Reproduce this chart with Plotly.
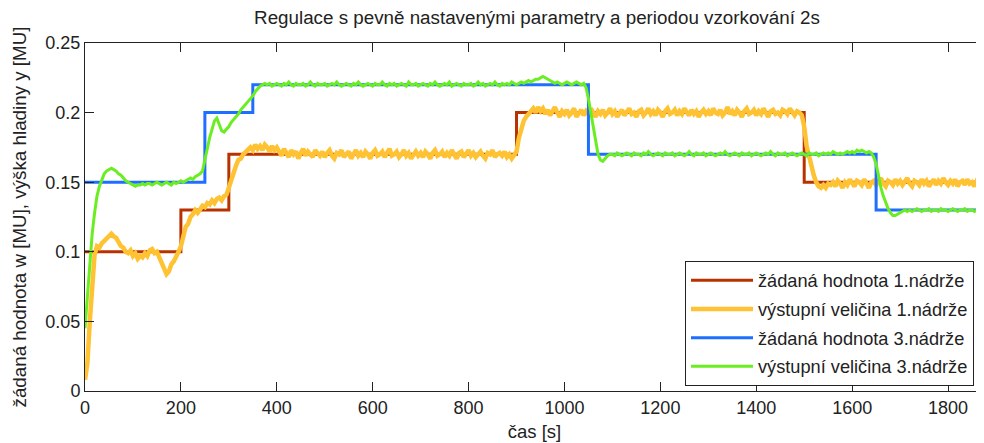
import plotly.graph_objects as go

# ---- data ----
# sample spacing of the digitised outputs: 5 s, starting at t = 0
y1_out = [
    0.008,0.020,0.050,0.075,0.098,0.104,0.103,0.106,0.108,0.109,
    0.112,0.113,0.111,0.110,0.107,0.104,0.103,0.100,0.099,0.101,
    0.097,0.099,0.095,0.097,0.096,0.099,0.097,0.101,0.102,0.099,
    0.100,0.096,0.093,0.088,0.084,0.086,0.091,0.093,0.096,0.100,
    0.104,0.113,0.118,0.120,0.125,0.127,0.130,0.128,0.131,0.133,
    0.132,0.135,0.134,0.137,0.135,0.138,0.139,0.137,0.140,0.141,
    0.146,0.152,0.158,0.162,0.166,0.167,0.170,0.172,0.174,0.175,
    0.173,0.177,0.174,0.176,0.173,0.177,0.175,0.172,0.176,0.173,
    0.175,
    0.172,0.169,0.174,0.171,0.168,0.173,0.170,0.172,0.167,0.171,0.174,0.169,0.172,0.170,0.168,0.173,0.171,0.169,0.172,
    0.168,0.171,0.173,0.169,0.167,0.171,0.170,0.173,0.168,0.170,0.172,0.167,0.170,0.173,0.169,0.171,0.168,0.172,0.170,0.167,
    0.171,0.173,0.169,0.170,0.172,0.168,0.171,0.174,0.169,0.170,0.172,0.168,0.170,0.173,0.169,0.171,0.167,0.170,0.172,0.169,
    0.171,0.168,0.172,0.170,0.167,0.171,0.173,0.169,0.170,0.172,0.168,0.171,0.169,0.173,0.170,0.167,0.171,0.172,0.168,0.170,
    0.173,0.169,0.171,0.168,0.170,0.172,0.169,0.167,0.171,0.170,0.173,0.168,0.170,0.171,0.169,0.172,0.168,0.170,0.167,0.169,
    0.172,0.182,0.188,0.194,0.197,0.199,0.201,0.203,0.200,0.204,0.201,
    0.203,0.199,0.202,0.198,0.201,0.204,0.200,0.197,0.201,
    0.199,0.202,0.198,0.200,0.203,0.197,0.200,0.202,0.198,0.201,0.199,0.203,0.200,0.197,0.201,0.199,0.202,0.198,0.200,0.203,
    0.199,0.201,0.197,0.200,0.202,0.198,0.201,0.203,0.199,0.200,0.197,0.201,0.202,0.198,0.200,0.203,0.199,0.201,0.198,0.202,
    0.200,0.197,0.201,0.203,0.199,0.200,0.202,0.198,0.201,0.199,0.203,0.200,0.198,0.202,0.199,0.201,0.197,0.200,0.202,0.199,
    0.201,0.198,0.203,0.200,0.199,0.202,0.198,0.200,0.204,0.199,0.201,0.198,0.202,0.200,0.197,0.201,0.203,0.199,0.200,0.202,
    0.198,0.201,0.199,0.203,0.200,0.197,0.201,0.202,0.199,0.200,0.198,0.202,0.201,0.199,0.203,0.200,0.198,0.201,0.200,
    0.198,0.190,0.176,0.168,0.161,0.155,0.150,0.147,0.146,0.148,0.146,0.149,0.148,0.150,
    0.147,0.151,0.149,0.146,0.150,0.148,0.152,
    0.149,0.147,0.151,0.150,0.148,0.152,0.149,0.146,0.150,0.151,0.148,0.150,0.153,0.149,0.147,0.151,0.150,0.148,0.152,0.149,
    0.151,0.148,0.150,0.153,0.149,0.147,0.151,0.150,0.148,0.152,0.149,0.151,0.147,0.150,0.152,0.148,0.151,0.149,0.153,0.150,
    0.148,0.151,0.149,0.152,0.147,0.150,0.151,0.148,0.152,0.149,0.150,0.147,0.151,0.149,0.152,0.150,
]

y3_out = [
    0.045,0.070,0.095,0.113,0.128,0.140,0.147,0.152,0.156,0.158,
    0.159,0.160,0.159,0.158,0.156,0.155,0.153,0.151,0.150,0.149,
    0.148,0.147,0.148,0.148,0.149,0.148,0.149,0.149,0.148,0.149,
    0.150,0.149,0.148,0.149,0.150,0.149,0.148,0.150,0.149,0.150,
    0.151,0.150,0.151,0.152,0.153,0.152,0.154,0.155,0.156,0.158,
    0.165,0.174,0.182,0.189,0.194,0.196,0.192,0.187,0.186,0.188,
    0.190,0.193,0.195,0.197,0.199,0.202,0.204,0.206,0.208,0.210,
    0.212,0.215,0.217,0.219,0.220,0.221,0.220,
    0.221,0.219,0.220,0.221,0.220,0.219,0.221,0.220,0.222,0.220,0.219,0.221,0.220,0.220,0.221,0.219,0.220,0.222,0.220,0.219,0.221,0.220,0.220,
    0.221,0.219,0.220,0.221,0.220,0.222,0.220,0.219,0.220,0.221,0.220,0.219,0.221,0.220,0.222,0.220,0.219,0.220,0.221,0.220,
    0.219,0.221,0.220,0.220,0.222,0.220,0.219,0.221,0.220,0.221,0.219,0.220,0.221,0.220,0.219,0.222,0.220,0.220,0.221,0.219,
    0.220,0.221,0.220,0.219,0.221,0.220,0.222,0.220,0.219,0.220,0.221,0.220,0.222,0.219,0.220,0.221,0.220,0.219,0.221,0.220,
    0.220,0.221,0.219,0.220,0.222,0.220,0.221,0.219,0.220,0.221,0.220,0.222,0.220,0.219,0.221,0.220,0.221,0.220,0.222,0.221,
    0.220,0.221,0.222,0.221,0.222,0.223,0.222,
    0.223,0.224,0.224,0.225,0.226,0.225,0.224,0.223,0.222,0.221,0.222,0.221,0.220,0.221,0.222,0.221,0.220,0.221,0.222,0.221,0.220,0.221,
    0.218,0.210,0.200,0.188,0.179,0.170,0.166,0.165,0.167,0.169,0.170,0.170,
    0.169,0.171,0.170,0.169,0.170,0.171,0.170,0.169,0.171,0.170,0.170,0.169,0.171,0.170,0.172,0.170,0.169,0.170,0.171,
    0.170,0.169,0.171,0.170,0.170,0.171,0.169,0.170,0.171,0.170,0.169,0.170,0.172,0.170,0.169,0.171,0.170,0.170,0.171,0.169,
    0.170,0.171,0.170,0.169,0.170,0.171,0.170,0.172,0.170,0.169,0.170,0.171,0.170,0.169,0.171,0.170,0.170,0.171,0.169,0.170,
    0.171,0.170,0.169,0.170,0.171,0.170,0.172,0.170,0.169,0.171,0.170,0.170,0.171,0.169,0.170,0.171,0.170,0.169,0.170,0.171,
    0.170,0.169,0.171,0.170,0.170,0.171,0.169,0.170,0.171,0.170,0.171,0.170,0.172,0.171,0.170,0.171,0.170,0.171,0.172,0.171,
    0.172,0.171,0.173,0.172,0.173,0.172,0.171,0.172,0.171,
    0.168,0.163,0.155,0.146,0.140,0.135,0.131,0.128,0.126,0.126,0.127,0.128,0.129,0.130,0.129,
    0.130,0.129,0.130,0.131,0.130,0.129,0.130,0.130,0.131,0.129,0.130,0.130,0.129,0.131,0.130,0.130,
    0.129,0.130,0.131,0.130,0.129,0.130,0.130,0.131,0.129,0.130,0.130,0.129,0.130,0.131,0.130,0.129,
]

T_SAMPLE = 5
t_out = [i * T_SAMPLE for i in range(len(y1_out))]
t_out3 = [i * T_SAMPLE for i in range(len(y3_out))]

# set-point step changes
sp1_t = [0, 200, 300, 900, 1500, 1875]
sp1_v = [0.10, 0.13, 0.17, 0.20, 0.15, 0.15]
sp3_t = [0, 250, 350, 1050, 1650, 1875]
sp3_v = [0.15, 0.20, 0.22, 0.17, 0.13, 0.13]

names = ["žádaná hodnota 1.nádrže", "výstupní veličina 1.nádrže",
         "žádaná hodnota 3.nádrže", "výstupní veličina 3.nádrže"]

x_ticks = [0, 200, 400, 600, 800, 1000, 1200, 1400, 1600, 1800]
y_ticks = [0, 0.05, 0.1, 0.15, 0.2, 0.25]
y_tick_text = ["0", "0.05", "0.1", "0.15", "0.2", "0.25"]

FONT = "Liberation Sans, Arial, sans-serif"
INK = "#222222"

# page body has an 8 px default margin: figure is 976x435 placed at (8, 8)
W, H = 976, 435

fig = go.Figure()
fig.add_trace(go.Scatter(x=sp1_t, y=sp1_v, mode="lines", line_shape="hv",
                         line=dict(color="#B83200", width=3), name=names[0], legendgroup="a"))
fig.add_trace(go.Scatter(x=t_out, y=y1_out, mode="lines",
                         line=dict(color="#FFC232", width=4.5), name=names[1], legendgroup="b"))
fig.add_trace(go.Scatter(x=sp3_t, y=sp3_v, mode="lines", line_shape="hv",
                         line=dict(color="#1E6EFF", width=3), name=names[2], legendgroup="c"))
fig.add_trace(go.Scatter(x=t_out3, y=y3_out, mode="lines",
                         line=dict(color="#6AEE22", width=3), name=names[3], legendgroup="d"))

fig.update_layout(
    width=W, height=H,
    margin=dict(l=77, r=0, t=35, b=52),
    paper_bgcolor="white", plot_bgcolor="white",
    font=dict(family=FONT, size=18, color=INK),
    title=dict(text="Regulace s pevně nastavenými parametry a periodou vzorkování 2s",
               x=529 / W, xanchor="center", y=1 - 9 / H, yanchor="middle", yref="container",
               font=dict(size=18.8, family=FONT, color=INK)),
    showlegend=True,
    legend=dict(x=(600 / 899), y=(130 / 348), xanchor="left", yanchor="top",
                bgcolor="white", bordercolor=INK, borderwidth=1,
                font=dict(size=18.2, family=FONT, color=INK),
                traceorder="grouped", tracegroupgap=2, itemwidth=62),
)
fig.update_xaxes(range=[0, 1875], tickvals=x_ticks, ticks="inside", ticklen=9,
                 showline=True, linecolor=INK, linewidth=1, mirror="ticks",
                 tickcolor=INK, showgrid=False, zeroline=False,
                 tickfont=dict(size=18),
                 title=dict(text="čas [s]", standoff=8, font=dict(size=18.5)))
fig.update_yaxes(range=[0, 0.25], tickvals=y_ticks, ticktext=y_tick_text,
                 ticks="inside", ticklen=9, showline=True, linecolor=INK, linewidth=1,
                 tickcolor=INK, showgrid=False, zeroline=False,
                 tickfont=dict(size=18),
                 title=dict(text="žádaná hodnota w [MU], výška hladiny y [MU]", standoff=13,
                            font=dict(size=18.8)))

fig.write_html("out.html")
